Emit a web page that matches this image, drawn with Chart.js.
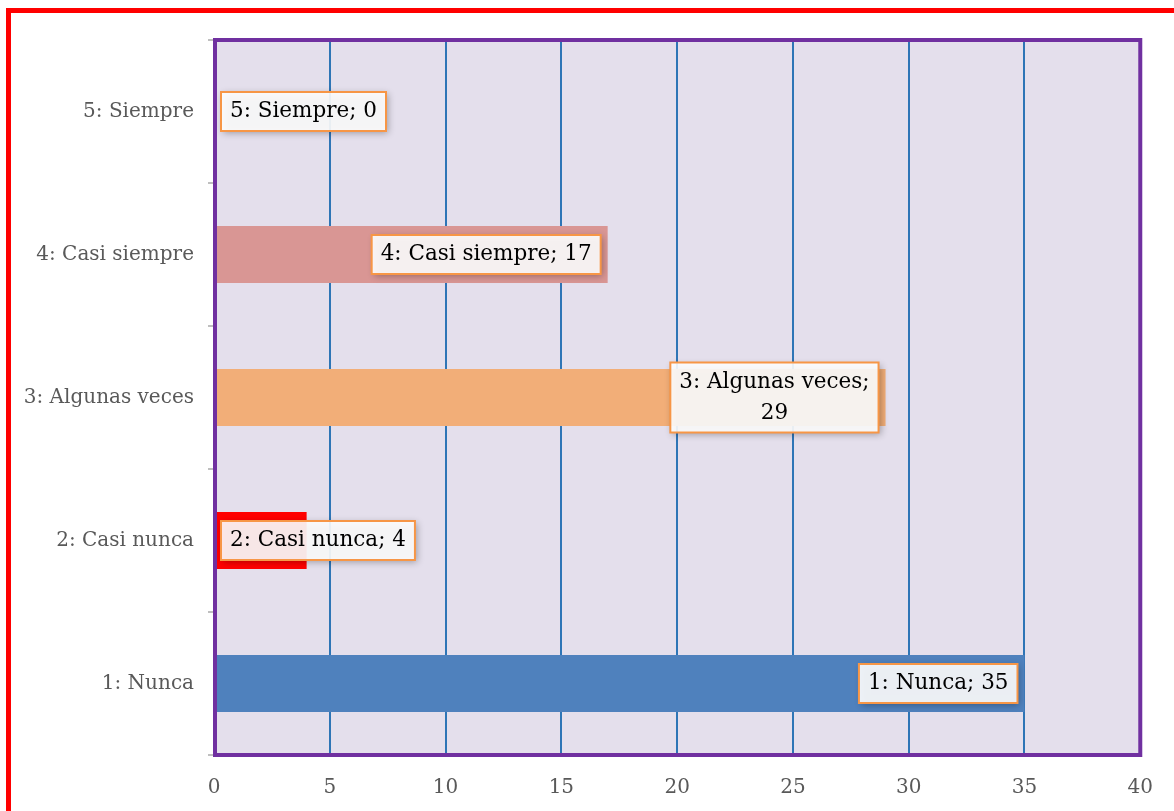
<!DOCTYPE html>
<html>
<head>
<meta charset="utf-8">
<script src="https://cdn.jsdelivr.net/npm/chart.js@4/dist/chart.umd.min.js"></script>
<style>
  html, body { margin: 0; padding: 0; background: #fff; }
  #wrap { width: 1174px; height: 811px; }
</style>
</head>
<body>
<div id="wrap"><canvas id="barChart" width="1174" height="811"></canvas></div>
<script>
var categorias = ['1: Nunca', '2: Casi nunca', '3: Algunas veces', '4: Casi siempre', '5: Siempre'];
var valores = [35, 4, 29, 17, 0];
var colores = ['#4F81BD', '#FF0000', '#F2AE78', '#D99694', '#8064A2'];
var xTicks = [0, 5, 10, 15, 20, 25, 30, 35, 40];
// etiquetas que Excel parte en dos lineas
var partidas = [false, false, true, false, false];

var fuente = 'DejaVu Serif';

var fondoPlugin = {
    id: 'fondo',
    beforeDraw: function (chart) {
        var ctx = chart.ctx, a = chart.chartArea;
        ctx.save();
        ctx.fillStyle = '#E4DFEC';
        ctx.fillRect(a.left, a.top, a.right - a.left, a.bottom - a.top);
        ctx.restore();
    },
    afterDraw: function (chart) {
        var ctx = chart.ctx, a = chart.chartArea;
        ctx.save();
        // borde morado del area
        ctx.strokeStyle = '#7030A0';
        ctx.lineWidth = 4;
        ctx.strokeRect(a.left + 1, a.top, a.right - a.left - 1, a.bottom - a.top);
        // marco rojo exterior
        ctx.strokeStyle = '#FF0000';
        ctx.lineWidth = 5;
        ctx.strokeRect(8.5, 10.5, 1180, 820);
        ctx.restore();
    }
};

var etiquetasPlugin = {
    id: 'etiquetas',
    afterDatasetsDraw: function (chart) {
        var ctx = chart.ctx, a = chart.chartArea;
        var meta = chart.getDatasetMeta(0);
        ctx.save();
        ctx.font = '21.5px "' + fuente + '"';
        ctx.textAlign = 'center';
        ctx.textBaseline = 'middle';
        meta.data.forEach(function (bar, i) {
            var lineas;
            if (partidas[i]) {
                lineas = [categorias[i] + ';', String(valores[i])];
            } else {
                lineas = [categorias[i] + '; ' + valores[i]];
            }
            var ancho = 0;
            lineas.forEach(function (l) { ancho = Math.max(ancho, ctx.measureText(l).width); });
            var w = ancho + 18, lh = 31, h = lineas.length * lh + 8;
            var x = bar.x - 7 - w;
            if (x < a.left + 7) x = a.left + 7;
            var y = bar.y - h / 2;
            ctx.save();
            ctx.shadowColor = 'rgba(0,0,0,0.35)';
            ctx.shadowBlur = 7;
            ctx.shadowOffsetX = 2;
            ctx.shadowOffsetY = 2;
            ctx.fillStyle = 'rgba(255,255,255,0.9)';
            ctx.fillRect(x, y, w, h);
            ctx.restore();
            ctx.strokeStyle = '#F79646';
            ctx.lineWidth = 2;
            ctx.strokeRect(x, y, w, h);
            ctx.fillStyle = '#000';
            lineas.forEach(function (l, k) {
                ctx.fillText(l, x + w / 2, y + 4 + lh / 2 + k * lh);
            });
        });
        ctx.restore();
    }
};

var ctx = document.getElementById('barChart');
var chart = new Chart(ctx, {
    type: 'bar',
    data: {
        labels: categorias,
        datasets: [{
            data: valores,
            backgroundColor: colores,
            barPercentage: 0.8,
            categoryPercentage: 0.5
        }]
    },
    options: {
        indexAxis: 'y',
        responsive: false,
        animation: false,
        events: [],
        layout: { padding: { left: 0, top: 40, right: 31, bottom: 0 } },
        plugins: { legend: { display: false }, tooltip: { enabled: false } },
        scales: {
            x: {
                min: 0,
                max: 40,
                afterBuildTicks: function (scale) {
                    scale.ticks = xTicks.map(function (v) { return { value: v }; });
                },
                afterFit: function (scale) { scale.height = 56; },
                grid: { color: '#2E75B6', lineWidth: 2, drawTicks: false },
                border: { display: false },
                ticks: { color: '#595959', padding: 21, font: { family: fuente, size: 20 } }
            },
            y: {
                reverse: true,
                afterFit: function (scale) { scale.width = 214; },
                grid: { drawOnChartArea: false, color: '#BFBFBF', lineWidth: 2, tickLength: 6 },
                border: { color: '#BFBFBF', width: 3 },
                ticks: { color: '#595959', padding: 14, font: { family: fuente, size: 20 } }
            }
        }
    },
    plugins: [fondoPlugin, etiquetasPlugin]
});
</script>
</body>
</html>
